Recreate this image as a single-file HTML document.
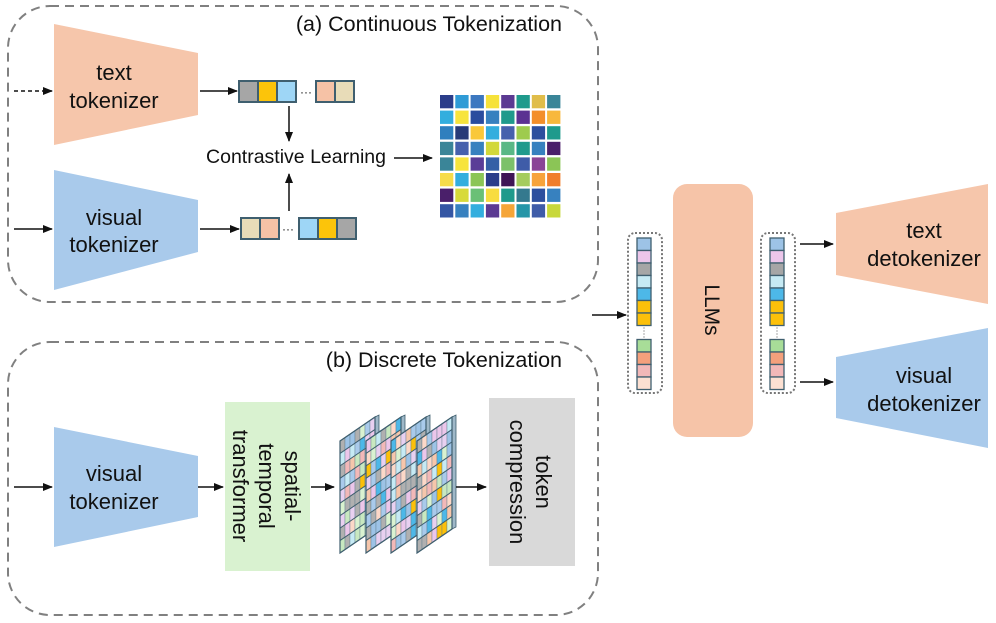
<!DOCTYPE html>
<html><head><meta charset="utf-8"><style>
html,body{margin:0;padding:0;background:#fff}
svg{display:block}
text{font-family:"Liberation Sans",Arial,sans-serif;fill:#111}
</style></head><body>
<svg id="s" width="996" height="623" viewBox="0 0 996 623" xmlns="http://www.w3.org/2000/svg">
<defs>
<marker id="ar" markerWidth="10" markerHeight="8" refX="9" refY="4" orient="auto" markerUnits="userSpaceOnUse"><path d="M0,0 L10,4 L0,8 z" fill="#111"/></marker>
</defs>
<rect x="8" y="6" width="590" height="296" rx="42" fill="none" stroke="#808080" stroke-width="2" stroke-dasharray="9,6"/>
<rect x="8" y="342" width="590" height="273" rx="42" fill="none" stroke="#808080" stroke-width="2" stroke-dasharray="9,6"/>
<text x="562" y="31" font-size="21.5" text-anchor="end">(a) Continuous Tokenization</text>
<text x="562" y="367" font-size="21.5" text-anchor="end">(b) Discrete Tokenization</text>

<polygon points="54,24 198,53 198,115 54,145" fill="#f6c6ab"/>
<text x="114" y="80" font-size="22" text-anchor="middle">text</text>
<text x="114" y="108" font-size="22" text-anchor="middle">tokenizer</text>
<polygon points="54,170 198,200 198,252 54,290" fill="#a9caeb"/>
<text x="114" y="225" font-size="22" text-anchor="middle">visual</text>
<text x="114" y="252" font-size="22" text-anchor="middle">tokenizer</text>
<line x1="14" y1="91" x2="52" y2="91" stroke="#111" stroke-width="1.5" stroke-dasharray="4,3" marker-end="url(#ar)"/>
<line x1="14" y1="229" x2="52" y2="229" stroke="#111" stroke-width="1.5" marker-end="url(#ar)"/>
<line x1="200" y1="91" x2="237" y2="91" stroke="#111" stroke-width="1.5" marker-end="url(#ar)"/>
<line x1="200" y1="229" x2="239" y2="229" stroke="#111" stroke-width="1.5" marker-end="url(#ar)"/>
<g stroke="#3f5f6f" stroke-width="2">
<rect x="239" y="81" width="19" height="21" fill="#a6a6a6"/>
<rect x="258" y="81" width="19" height="21" fill="#fcc40a"/>
<rect x="277" y="81" width="19" height="21" fill="#9ed6f6"/>
<rect x="316" y="81" width="19" height="21" fill="#f6c2a6"/>
<rect x="335" y="81" width="19" height="21" fill="#e8dcb8"/>
<rect x="241" y="218" width="19" height="21" fill="#e8dcb8"/>
<rect x="260" y="218" width="19" height="21" fill="#f6c2a6"/>
<rect x="299" y="218" width="19" height="21" fill="#9ed6f6"/>
<rect x="318" y="218" width="19" height="21" fill="#fcc40a"/>
<rect x="337" y="218" width="19" height="21" fill="#a6a6a6"/>
</g>
<text x="306" y="96" font-size="12" text-anchor="middle">···</text>
<text x="288" y="233" font-size="12" text-anchor="middle">···</text>
<line x1="289" y1="106" x2="289" y2="141" stroke="#111" stroke-width="1.5" marker-end="url(#ar)"/>
<line x1="289" y1="211" x2="289" y2="174" stroke="#111" stroke-width="1.5" marker-end="url(#ar)"/>
<text x="296" y="163" font-size="19.5" text-anchor="middle">Contrastive Learning</text>
<line x1="394" y1="158" x2="432" y2="158" stroke="#111" stroke-width="1.5" marker-end="url(#ar)"/>
<g id="grid"></g>

<polygon points="54,427 198,456 198,517 54,547" fill="#a9caeb"/>
<text x="114" y="481" font-size="22" text-anchor="middle">visual</text>
<text x="114" y="509" font-size="22" text-anchor="middle">tokenizer</text>
<line x1="14" y1="487" x2="52" y2="487" stroke="#111" stroke-width="1.5" marker-end="url(#ar)"/>
<line x1="198" y1="487" x2="223" y2="487" stroke="#111" stroke-width="1.5" marker-end="url(#ar)"/>
<rect x="225" y="402" width="85" height="169" fill="#d9f2d0"/>
<g transform="translate(266,486) rotate(90)" font-size="22">
<text x="0" y="-19" text-anchor="middle">spatial-</text>
<text x="0" y="7" text-anchor="middle">temporal</text>
<text x="0" y="33" text-anchor="middle">transformer</text>
</g>
<line x1="311" y1="487" x2="334" y2="487" stroke="#111" stroke-width="1.5" marker-end="url(#ar)"/>
<g id="panels"></g>
<line x1="456" y1="487" x2="486" y2="487" stroke="#111" stroke-width="1.5" marker-end="url(#ar)"/>
<rect x="489" y="398" width="86" height="168" fill="#d9d9d9"/>
<g transform="translate(530,482) rotate(90)" font-size="22">
<text x="0" y="-6" text-anchor="middle">token</text>
<text x="0" y="20" text-anchor="middle">compression</text>
</g>

<line x1="592" y1="315" x2="626" y2="315" stroke="#111" stroke-width="1.5" marker-end="url(#ar)"/>
<rect x="628" y="233" width="34" height="160" rx="7" fill="none" stroke="#777" stroke-width="2" stroke-dasharray="2,2"/>
<rect x="761" y="233" width="34" height="160" rx="7" fill="none" stroke="#777" stroke-width="2" stroke-dasharray="2,2"/>
<g id="tok"></g>
<rect x="673" y="184" width="80" height="253" rx="14" fill="#f6c4a8"/>
<text transform="translate(705,310) rotate(90)" font-size="21" text-anchor="middle">LLMs</text>
<line x1="800" y1="244" x2="833" y2="244" stroke="#111" stroke-width="1.5" marker-end="url(#ar)"/>
<line x1="800" y1="382" x2="833" y2="382" stroke="#111" stroke-width="1.5" marker-end="url(#ar)"/>
<polygon points="836,213 988,184 988,304 836,275" fill="#f6c6ab"/>
<text x="924" y="238" font-size="22" text-anchor="middle">text</text>
<text x="924" y="266" font-size="22" text-anchor="middle">detokenizer</text>
<polygon points="836,357 988,328 988,448 836,418" fill="#a9caeb"/>
<text x="924" y="383" font-size="22" text-anchor="middle">visual</text>
<text x="924" y="411" font-size="22" text-anchor="middle">detokenizer</text>
</svg>
<script>
var NS="http://www.w3.org/2000/svg";
function el(p,t,a){var e=document.createElementNS(NS,t);for(var k in a)e.setAttribute(k,a[k]);p.appendChild(e);return e;}
var G=[["#2b3d8a","#2f9bd6","#3c78c0","#f6e23a","#5b3a92","#1f9a8c","#e0bd4a","#3a8598"],
["#33aede","#f7e43c","#2a4c9e","#3781bf","#1f9a8c","#5b3192","#f38f2a","#f8b83c"],
["#2f7fbe","#283a78","#f9c83a","#33aede","#4661ad","#9ecb4e","#2d4f9e","#1f9a8c"],
["#3a8598","#4661ad","#3781bf","#d2d83a","#59b885","#1f9a8c","#3781bf","#4a1f6a"],
["#3a8598","#f7e43c","#5a3d97","#3560a6","#7cc16a","#3f5ca8","#8a4596","#8bc556"],
["#f6dc4a","#33aede","#8bc556","#2b3d8a","#3f1555","#a5cc5e","#f7a33c","#f07e2c"],
["#4a1f6a","#d8da3a","#6ac076","#f8dc3e","#1f9a8c","#34798e","#2d4f9e","#3781bf"],
["#3456a4","#3781bf","#33aede","#5b3a92","#f5a538","#2696a8","#3f5ca8","#c8d83a"]];
var g=document.getElementById("grid");
for(var r=0;r<8;r++)for(var c=0;c<8;c++)el(g,"rect",{x:440+c*15.3,y:95+r*15.6,width:13.3,height:13.3,fill:G[r][c]});
var tc=["#9dc3e6","#ecc6ea","#a6a6a6","#c6eaf4","#4db8e8","#fcc00a","#fcc00a",null,"#a8dd98","#f4a07c","#f2b8b8","#fce0d2"];
var tg=document.getElementById("tok");
[637,770].forEach(function(x){var y=238;tc.forEach(function(c){if(c===null){el(tg,"line",{x1:x+7,y1:y+2,x2:x+7,y2:y+12,stroke:"#555","stroke-width":1,"stroke-dasharray":"1,2"});y+=14;return;}el(tg,"rect",{x:x,y:y,width:14,height:12.5,fill:c,stroke:"#3f5f6f","stroke-width":1.3});y+=12.5;});});
var pc=["#a9caeb","#c6eaf4","#ecc6ea","#d9f2d0","#f6c6ab","#b0b0b0","#9dc3e6","#e8d0f0","#c8e8c0","#fcd8c8","#4db8e8","#f2b8b8"];
var pg=document.getElementById("panels");var seed=7;function rnd(){seed=(seed*9301+49297)%233280;return seed/233280;}
[340,366,391,417].forEach(function(x0,pi){
 var w=35,h=112,top=441,sl=-24;
 el(pg,"polygon",{points:(x0+w)+","+(top+sl)+" "+(x0+w+4)+","+(top+sl-2)+" "+(x0+w+4)+","+(top+sl+h-2)+" "+(x0+w)+","+(top+sl+h),fill:"#9fb8c8",stroke:"#3f5f6f","stroke-width":0.8});
 var cols=7,rows=9,cw=w/cols,rh=h/rows;
 for(var i=0;i<cols;i++)for(var j=0;j<rows;j++){
  var xa=x0+i*cw,xb=xa+cw,ya=top+j*rh+sl*i/cols,yb=top+j*rh+sl*(i+1)/cols;
  var f=pc[Math.floor(rnd()*pc.length)];if(rnd()<0.04)f="#fcc00a";
  el(pg,"polygon",{points:xa+","+ya+" "+xb+","+yb+" "+xb+","+(yb+rh)+" "+xa+","+(ya+rh),fill:f,stroke:"#5a7888","stroke-width":0.4});
 }
 for(var j=0;j<=rows;j++)el(pg,"line",{x1:x0,y1:top+j*rh,x2:x0+w,y2:top+j*rh+sl,stroke:"#3f5f6f","stroke-width":1});
 el(pg,"polygon",{points:x0+","+top+" "+(x0+w)+","+(top+sl)+" "+(x0+w)+","+(top+sl+h)+" "+x0+","+(top+h),fill:"none",stroke:"#3f5f6f","stroke-width":1.2});
});
</script>
</body></html>
